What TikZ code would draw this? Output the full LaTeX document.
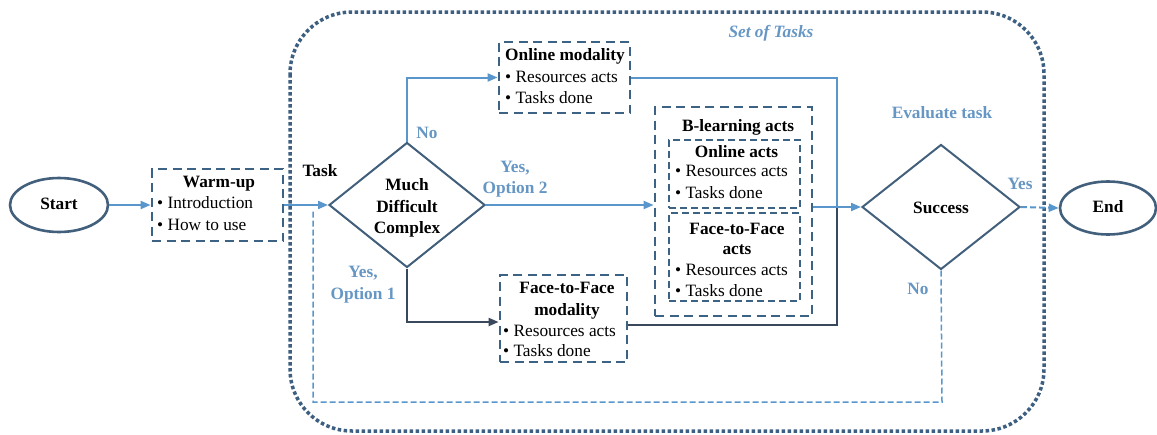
\documentclass[tikz,border=0pt]{standalone}
\usepackage{fontspec}
\setmainfont{Liberation Serif}
\usetikzlibrary{shapes.geometric,arrows.meta}
\definecolor{lineblue}{RGB}{88,150,204}
\definecolor{lblue}{RGB}{102,150,196}
\definecolor{boxdash}{RGB}{60,98,132}
\definecolor{diacol}{RGB}{66,96,124}
\definecolor{darkline}{RGB}{58,72,92}
\definecolor{dotcol}{RGB}{60,95,130}
\tikzset{
  txt/.style={font=\fontsize{17.3}{20}\selectfont, inner sep=0pt, text height=12pt, text depth=4pt},
  bld/.style={txt, font=\fontsize{17.3}{20}\selectfont\bfseries},
  lbl/.style={bld, text=lblue},
  bl/.style={txt, anchor=west},
  dbox/.style={draw=boxdash, line width=2.8pt, dash pattern=on 9pt off 5.5pt, inner sep=0pt},
  ibox/.style={draw=boxdash, line width=1.9pt, dash pattern=on 7pt off 4pt, inner sep=0pt},
  dia/.style={diamond, draw=diacol, line width=2pt, inner sep=0pt},
  oval/.style={ellipse, draw=diacol, line width=2.6pt, inner sep=0pt},
  arr/.style={draw=lineblue, line width=2pt, -{Triangle[length=10pt,width=8pt]}},
  ln/.style={draw=lineblue, line width=2pt},
  darr/.style={draw=darkline, line width=2pt, -{Triangle[length=10pt,width=8pt]}},
  dln/.style={draw=darkline, line width=2pt},
  loopln/.style={draw=lineblue, line width=1.5pt, dash pattern=on 6pt off 3pt},
  yesln/.style={draw=lineblue, line width=2pt, dash pattern=on 6pt off 3pt, -{Triangle[length=10pt,width=8pt]}},
}
\begin{document}
\begin{tikzpicture}[x=1pt,y=-1pt]
\useasboundingbox (0,0) rectangle (1157,434);
% Set of tasks frame
\draw[draw=dotcol, line width=3.5pt, dash pattern=on 3.5pt off 2.5pt, rounded corners=62pt] (290,12) rectangle (1044,431);
\node[txt, font=\fontsize{17.3}{20}\selectfont\bfseries\itshape, text=lblue] (sot) at (771,33) {Set of Tasks};

% Start / End
\node[oval, minimum width=98pt, minimum height=54pt] (start) at (59,205) {};
\node[bld] (startt) at (59,205) {Start};
\node[oval, minimum width=96pt, minimum height=53pt] (end) at (1108,208) {};
\node[bld] (endt) at (1108,208) {End};

% Warm-up
\node[dbox, minimum width=131pt, minimum height=72pt] (warm) at (217.5,205) {};
\node[bld] (warmh) at (219,183) {Warm-up};
\node[bl] (warm1) at (157,204) {• Introduction};
\node[bl] (warm2) at (157,226) {• How to use};
\node[bld] (task) at (320,172) {Task};

% Much difficult diamond
\node[dia, minimum width=156pt, minimum height=125pt] (much) at (407,205) {};
\node[bld] (much1) at (407,186) {Much};
\node[bld] (much2) at (407,208) {Difficult};
\node[bld] (much3) at (407,229) {Complex};
\node[lbl] (no1) at (427,134) {No};
\node[lbl] (yes2a) at (515,168) {Yes,};
\node[lbl] (yes2b) at (515,189) {Option 2};
\node[lbl] (yes1a) at (363,273) {Yes,};
\node[lbl] (yes1b) at (363,295) {Option 1};

% Online modality
\node[dbox, minimum width=131pt, minimum height=71pt] (om) at (564.5,77.5) {};
\node[bld, anchor=west] (omh) at (505,56) {Online modality};
\node[bl] (om1) at (505,78) {• Resources acts};
\node[bl] (om2) at (505,99) {• Tasks done};

% Face-to-face modality
\node[dbox, minimum width=127pt, minimum height=87pt] (fm) at (563.5,318.5) {};
\node[bld] (fmh1) at (567,289) {Face-to-Face};
\node[bld] (fmh2) at (567,311) {modality};
\node[bl] (fm1) at (503,332) {• Resources acts};
\node[bl] (fm2) at (503,352) {• Tasks done};

% B-learning
\node[dbox, minimum width=157pt, minimum height=209pt] (bl) at (733.5,211.5) {};
\node[bld] (blh) at (738,127) {B-learning acts};
\node[ibox, minimum width=131pt, minimum height=68pt] (oa) at (734.5,174) {};
\node[bld] (oah) at (736.5,153) {Online acts};
\node[bl] (oa1) at (675,172) {• Resources acts};
\node[bl] (oa2) at (675,194) {• Tasks done};
\node[ibox, minimum width=131pt, minimum height=88pt] (fa) at (734.5,257) {};
\node[bld] (fah1) at (737,230) {Face-to-Face};
\node[bld] (fah2) at (737,250) {acts};
\node[bl] (fa1) at (675,271) {• Resources acts};
\node[bl] (fa2) at (675,292) {• Tasks done};

% Success
\node[dia, minimum width=158pt, minimum height=125pt] (succ) at (941,207) {};
\node[bld] (succt) at (941,209) {Success};
\node[lbl] (eval) at (942,114) {Evaluate task};
\node[lbl] (yesl) at (1020,185) {Yes};
\node[lbl] (nol) at (918,290) {No};

\coordinate (join) at (837,207);
\coordinate (loopend) at (313,210);
\coordinate (loopc) at (942,402);

% connectors
\draw[arr] (start) -- (warm);
\draw[arr] (warm.east) -- (much.west);
\draw[arr] (much.north) |- (om.west);
\draw[arr] (much.east) -- (much.east -| bl.west);
\draw[darr] (much.south) |- ([yshift=-3.5pt]fm.west);
\draw[ln] (om.east) -| (join);
\draw[dln] ([yshift=-6.5pt]fm.east) -| (join);
\draw[arr] (succ.west -| bl.east) -- (succ.west);
\draw[yesln] (succ.east) -- (end.west);
\draw[loopln] (succ.south) -- (loopc) -| (loopend);
\end{tikzpicture}
\end{document}
